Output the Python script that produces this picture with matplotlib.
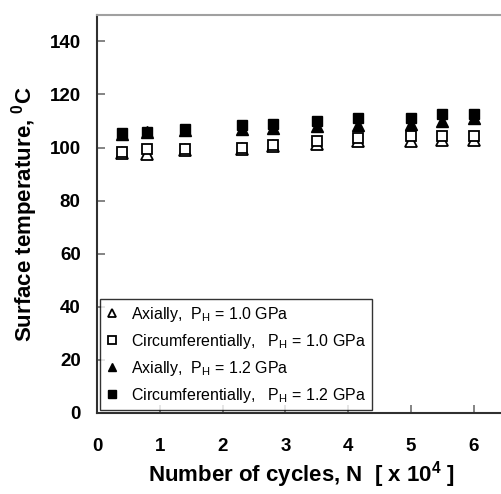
import matplotlib
matplotlib.use("Agg")
import matplotlib.pyplot as plt

plt.rcParams['font.family'] = ['Liberation Sans', 'DejaVu Sans']
plt.rcParams['mathtext.fontset'] = 'custom'
plt.rcParams['mathtext.rm'] = 'Liberation Sans'
plt.rcParams['mathtext.bf'] = 'Liberation Sans:bold'
plt.rcParams['mathtext.it'] = 'Liberation Sans:italic'

# Data
cycles = [0.4, 0.8, 1.4, 2.3, 2.8, 3.5, 4.15, 5.0, 5.5, 6.0]
ax_10 = [98.0, 97.5, 99.0, 99.5, 100.5, 101.5, 102.5, 102.5, 103.0, 103.0]
circ_10 = [98.5, 99.5, 99.5, 100.0, 101.0, 102.5, 103.5, 104.5, 104.5, 104.5]
ax_12 = [105.0, 106.0, 106.5, 107.0, 107.5, 108.0, 108.5, 109.0, 110.0, 111.0]
circ_12 = [105.5, 106.0, 107.0, 108.5, 109.0, 110.0, 111.0, 111.0, 112.5, 112.5]

x_ticks = [0, 1, 2, 3, 4, 5, 6]
y_ticks = [0, 20, 40, 60, 80, 100, 120, 140]

fig = plt.figure(figsize=(5.01, 4.94), dpi=100)
ax = fig.add_axes([0.1942, 0.164, 0.8136, 0.806])

ax.plot(cycles, ax_10, linestyle='none', marker='^', ms=8, mfc='white', mec='black', mew=1.3,
        label='Axially,  P$_\\mathregular{H}$ = 1.0 GPa')
ax.plot(cycles, circ_10, linestyle='none', marker='s', ms=7.5, mfc='white', mec='black', mew=1.3,
        label='Circumferentially,   P$_\\mathregular{H}$ = 1.0 GPa')
ax.plot(cycles, ax_12, linestyle='none', marker='^', ms=8, mfc='black', mec='black',
        label='Axially,  P$_\\mathregular{H}$ = 1.2 GPa')
ax.plot(cycles, circ_12, linestyle='none', marker='s', ms=7.5, mfc='black', mec='black',
        label='Circumferentially,   P$_\\mathregular{H}$ = 1.2 GPa')

ax.set_xlim(0, 6.5)
ax.set_ylim(0, 150)
ax.set_xticks(x_ticks)
ax.set_yticks(y_ticks)
ax.set_xticklabels([str(t) for t in x_ticks], fontsize=13.5, fontweight='bold')
ax.set_yticklabels([str(t) for t in y_ticks], fontsize=13.5, fontweight='bold')
ax.tick_params(axis='x', direction='in', length=6, width=1.2, color='#707070', pad=18)
ax.tick_params(axis='y', direction='in', length=6, width=1.2, color='#707070', pad=12)

ax.spines['top'].set_color('#a0a0a0')
ax.spines['top'].set_linewidth(1.5)
ax.spines['left'].set_color('#303030')
ax.spines['left'].set_linewidth(1.5)
ax.spines['bottom'].set_color('#303030')
ax.spines['bottom'].set_linewidth(1.5)
ax.spines['right'].set_visible(False)

ax.set_xlabel('Number of cycles, N  [ x 10$^\\mathbf{4}$ ]', fontsize=16, fontweight='bold', labelpad=3)
ax.set_ylabel('Surface temperature, $^\\mathbf{0}$C', fontsize=16, fontweight='bold', labelpad=7)

leg = ax.legend(loc='lower left', bbox_to_anchor=(0.006, 0.007), borderaxespad=0,
                fontsize=11.5, frameon=True, fancybox=False, edgecolor='black',
                handlelength=0.8, handletextpad=0.8, labelspacing=0.5,
                borderpad=0.35, markerscale=0.8)
leg.get_frame().set_linewidth(1.0)

fig.savefig("out.png", dpi=100)
